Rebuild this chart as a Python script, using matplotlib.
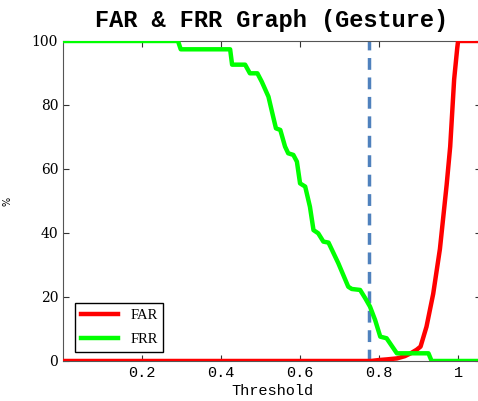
import matplotlib
matplotlib.use('Agg')
import matplotlib.pyplot as plt

# FAR curve (red)
far_x = [0, 0.78, 0.80, 0.82, 0.845, 0.865, 0.88, 0.895, 0.905, 0.92, 0.937,
         0.954, 0.971, 0.98, 0.99, 0.998, 1.0, 1.06]
far_y = [0, 0, 0.3, 0.5, 0.8, 1.5, 2.4, 3.5, 4.5, 10.7, 21, 35, 55, 67, 88, 98,
         100, 100]

# FRR curve (green)
frr_x = [0, 0.291, 0.298, 0.423, 0.428, 0.461, 0.473, 0.492, 0.503, 0.52, 0.532,
         0.539, 0.55, 0.562, 0.57, 0.583, 0.592, 0.6, 0.613, 0.625, 0.634, 0.646,
         0.659, 0.672, 0.697, 0.722, 0.731, 0.752, 0.765, 0.777, 0.79, 0.803,
         0.819, 0.845, 0.925, 0.933, 1.06]
frr_y = [100, 100, 97.4, 97.4, 92.6, 92.6, 89.9, 89.9, 87.3, 82.6, 76.3,
         72.7, 72.2, 67, 64.9, 64.4, 62.3, 55.5, 54.5, 48.2, 40.9, 39.9,
         37.3, 37, 30.5, 23.2, 22.5, 22.2, 19.6, 17, 12.8, 7.6,
         7.1, 2.4, 2.4, 0, 0]

threshold = 0.775
xticks = [0.2, 0.4, 0.6, 0.8, 1]
xtick_labels = ['0.2', '0.4', '0.6', '0.8', '1']
yticks = [0, 20, 40, 60, 80, 100]

mono = 'Liberation Mono'

fig = plt.figure(figsize=(4.78, 4.01), dpi=100)
# right edge of the axes sits just past the figure edge, as in the original crop
ax = fig.add_axes([0.1318, 0.0998, 0.8745, 0.798])

ax.plot(far_x, far_y, color='#ff0000', lw=3.2, label='FAR', zorder=3)
ax.plot(frr_x, frr_y, color='#00ff00', lw=3.2, label='FRR', zorder=3)
ax.axvline(threshold, color='#4f81bd', lw=2.5, linestyle=(0, (3.4, 2.2)), zorder=2)

ax.set_xlim(0, 1.058)
ax.set_ylim(0, 100)
ax.set_xticks(xticks)
ax.set_xticklabels(xtick_labels, family=mono, fontsize=11)
ax.set_yticks(yticks)
ax.set_yticklabels([str(v) for v in yticks], family='DejaVu Serif', fontsize=10)
ax.tick_params(direction='in', top=True, right=True, length=4, color='#333333')
for s in ax.spines.values():
    s.set_color('#555555')

ax.set_title('FAR & FRR Graph (Gesture)', family=mono, fontweight='bold',
             fontsize=17, pad=10)
ax.set_xlabel('Threshold', family=mono, fontsize=11, labelpad=3)
ax.set_ylabel('%', fontsize=7, labelpad=14)

leg = ax.legend(loc='lower left', bbox_to_anchor=(0.028, 0.028),
                prop={'family': 'Liberation Serif', 'size': 10.5},
                fancybox=False, edgecolor='black', framealpha=1,
                handlelength=2.6, labelspacing=0.75, borderaxespad=0)
leg.get_frame().set_linewidth(1)

fig.savefig('out.png', dpi=100)
